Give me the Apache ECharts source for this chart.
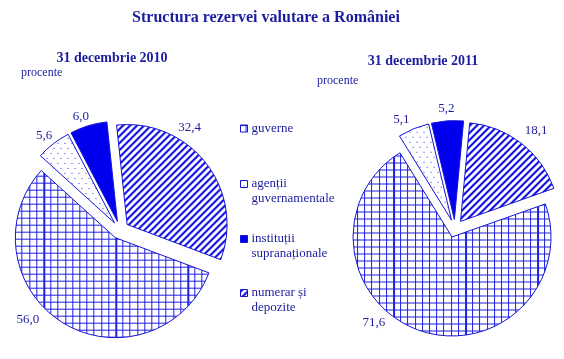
<!DOCTYPE html>
<html><head><meta charset="utf-8">
<script src="https://cdn.jsdelivr.net/npm/echarts@6/dist/echarts.min.js"></script>
<style>html,body{margin:0;padding:0;background:#fff}#c{width:564px;height:359px}</style>
</head><body><div id="c"></div>
<script>
// ---- data ----
const categories = ['guverne', 'agenții guvernamentale', 'instituții supranaționale', 'numerar și depozite'];
const legendLabels = ['guverne', 'agenții\nguvernamentale', 'instituții\nsupranaționale', 'numerar și\ndepozite'];
const values2010 = [56.0, 5.6, 6.0, 32.4];
const values2011 = [71.6, 5.1, 5.2, 18.1];
const chartTitle = 'Structura rezervei valutare a României';
const panelTitles = ['31 decembrie 2010', '31 decembrie 2011'];
const unitLabel = 'procente';

// ---- styles ----
const NAVY = '#1c1ca0';
const BLUE = '#0000ee';
const LINE = '#1414d8';
const FONT = 'Liberation Serif';

function tile(w, h, draw) {
  const c = document.createElement('canvas');
  c.width = w; c.height = h;
  const g = c.getContext('2d');
  g.fillStyle = '#fff'; g.fillRect(0, 0, w, h);
  draw(g);
  return c;
}
const gridTile = tile(72, 7, g => {
  g.fillStyle = '#2020e0';
  g.fillRect(0, 0, 72, 1);
  for (let i = 0; i < 10; i++) {
    const x = Math.round(i * 7.2);
    g.fillRect(x, 0, i === 0 ? 2 : 1, 7);
  }
});
const stripeTile = tile(7, 7, g => {
  g.fillStyle = '#1010e6';
  for (let y = 0; y < 7; y++) for (let x = 0; x < 7; x++) {
    if (((x + y) % 7) < 3) g.fillRect(x, y, 1, 1);
  }
});
const dotTile = tile(7, 10, g => {
  g.fillStyle = '#3030e0';
  g.fillRect(0, 0, 1, 1);
  g.fillRect(3, 5, 1, 1);
});
function fills(gridX) {
  return [
    { image: gridTile, repeat: 'repeat', x: gridX },
    { image: dotTile, repeat: 'repeat' },
    BLUE,
    { image: stripeTile, repeat: 'repeat' }
  ];
}
const labelOffsets2010 = [[-19, -3], [4, -8], [5.5, -9], [-33, -36]];
const labelOffsets2011 = [[-29, -8], [1, -9], [12, -12], [-1.5, -13]];

function makeSeries(values, center, radius, startAngle, gridX, offsets) {
  const f = fills(gridX);
  return {
    type: 'pie',
    center: center,
    radius: radius,
    startAngle: startAngle,
    clockwise: true,
    selectedMode: 'multiple',
    selectedOffset: 9,
    avoidLabelOverlap: false,
    silent: true,
    animation: false,
    emphasis: { disabled: true },
    itemStyle: { borderColor: LINE, borderWidth: 1 },
    label: {
      show: true, position: 'outside',
      formatter: p => p.value.toFixed(1).replace('.', ','),
      fontFamily: FONT, fontSize: 13, color: NAVY
    },
    labelLine: { show: false, length: 0, length2: 0 },
    labelLayout: p => ({ dx: offsets[p.dataIndex][0], dy: offsets[p.dataIndex][1] }),
    data: categories.map((n, i) => ({
      name: n, value: values[i], selected: true,
      itemStyle: { color: f[i] }
    }))
  };
}

const legendTops = [121, 176.5, 231.5, 285.5];
const twoLineIcon = 'path://M0,0H7V7H0Z M0,22H0.001';
const legends = categories.map((n, i) => ({
  left: 240, top: legendTops[i], padding: 0,
  orient: 'vertical', selectedMode: false,
  itemWidth: 7, itemHeight: i === 0 ? 7 : 22,
  itemStyle: { borderColor: LINE, borderWidth: 1 },
  data: [{ name: n, icon: i === 0 ? 'rect' : twoLineIcon }],
  formatter: name => legendLabels[categories.indexOf(name)],
  textStyle: { fontFamily: FONT, fontSize: 13, color: NAVY, lineHeight: 15, padding: [0, 0, 0, -1] }
}));

const chart = echarts.init(document.getElementById('c'), null, { renderer: 'canvas' });
chart.setOption({
  backgroundColor: '#fff',
  animation: false,
  title: [
    { text: chartTitle, left: 266, top: 10, textAlign: 'center', padding: 0,
      textStyle: { fontFamily: FONT, fontSize: 16, fontWeight: 'bold', color: NAVY } },
    { text: panelTitles[0], left: 112, top: 51, textAlign: 'center', padding: 0,
      textStyle: { fontFamily: FONT, fontSize: 14, fontWeight: 'bold', color: NAVY } },
    { text: panelTitles[1], left: 423, top: 54, textAlign: 'center', padding: 0,
      textStyle: { fontFamily: FONT, fontSize: 14, fontWeight: 'bold', color: NAVY } },
    { text: unitLabel, left: 21, top: 67, padding: 0,
      textStyle: { fontFamily: FONT, fontSize: 12, fontWeight: 'normal', color: NAVY } },
    { text: unitLabel, left: 317, top: 75, padding: 0,
      textStyle: { fontFamily: FONT, fontSize: 12, fontWeight: 'normal', color: NAVY } }
  ],
  legend: legends,
  series: [
    makeSeries(values2010, [120, 230], 100, -20.6, 48, labelOffsets2010),
    makeSeries(values2011, [455, 228.5], 99, 19.5, 36, labelOffsets2011)
  ]
});
</script>
</body></html>
